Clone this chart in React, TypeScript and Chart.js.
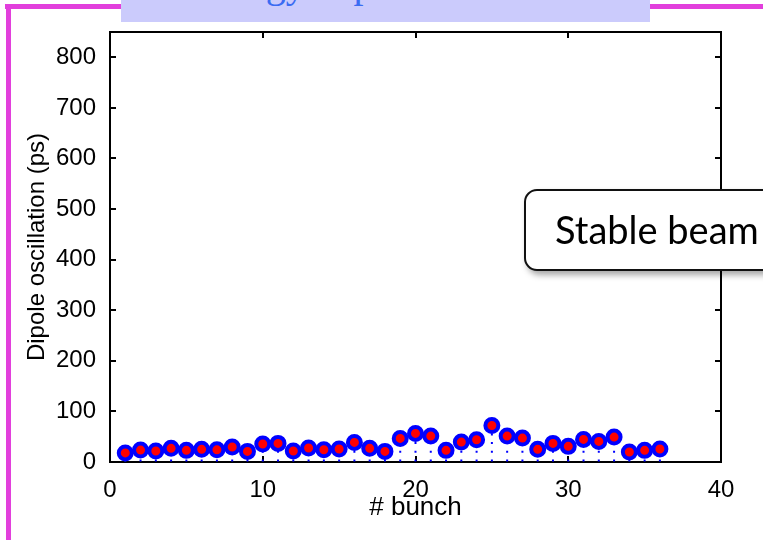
import React, { useEffect, useRef } from "react";
import { Chart, registerables } from "chart.js";

Chart.register(...registerables);

const bunches = [1, 2, 3, 4, 5, 6, 7, 8, 9, 10, 11, 12, 13, 14, 15, 16, 17, 18, 19, 20, 21, 22, 23, 24, 25, 26, 27, 28, 29, 30, 31, 32, 33, 34, 35, 36];
const oscillation = [18, 23.6, 21.7, 27, 23, 25, 24, 29.6, 21, 35.5, 36.8, 21.7, 27.6, 24.3, 25.6, 38.7, 27, 21, 46.6, 56.5, 51.2, 23, 39.4, 44, 72.2, 51.2, 47.3, 25, 36.8, 30.9, 44.7, 40.7, 49.3, 19.7, 23, 25.6];
const xTicks = [0, 10, 20, 30, 40];
const yTicks = [0, 100, 200, 300, 400, 500, 600, 700, 800];
const xLabel = "# bunch";
const yLabel = "Dipole oscillation (ps)";
const noteText = "Stable beam";
const titleText = "Energy dependence";

const FONT = "'Liberation Sans', Arial, Helvetica, sans-serif";

const framePlugin = {
  id: "frame",
  beforeDatasetsDraw(chart: any) {
    const { ctx, chartArea: a, scales } = chart;
    const x = scales.x;
    const y = scales.y;
    ctx.save();
    ctx.strokeStyle = "#000";
    ctx.lineWidth = 2;
    ctx.strokeRect(a.left, a.top, a.right - a.left, a.bottom - a.top);
    const tl = 6;
    ctx.beginPath();
    yTicks.forEach((v) => {
      const py = Math.round(y.getPixelForValue(v));
      ctx.moveTo(a.left, py);
      ctx.lineTo(a.left + tl, py);
      ctx.moveTo(a.right, py);
      ctx.lineTo(a.right - tl, py);
    });
    xTicks.forEach((v) => {
      const px = Math.round(x.getPixelForValue(v));
      ctx.moveTo(px, a.bottom);
      ctx.lineTo(px, a.bottom - tl);
      ctx.moveTo(px, a.top);
      ctx.lineTo(px, a.top + tl);
    });
    ctx.stroke();
    // stems
    const y0 = y.getPixelForValue(0);
    ctx.strokeStyle = "#0000ff";
    ctx.lineWidth = 2;
    ctx.setLineDash([2, 6.7]);
    bunches.forEach((b, i) => {
      const px = x.getPixelForValue(b);
      const py = y.getPixelForValue(oscillation[i]);
      ctx.beginPath();
      ctx.moveTo(px, y0 - 0.5);
      ctx.lineTo(px, py);
      ctx.stroke();
    });
    ctx.restore();
  },
};

export default function App() {
  const ref = useRef<HTMLCanvasElement | null>(null);

  useEffect(() => {
    if (!ref.current) return;
    const chart = new Chart(ref.current, {
      type: "scatter",
      data: {
        datasets: [
          {
            data: bunches.map((b, i) => ({ x: b, y: oscillation[i] })),
            pointRadius: 6.5,
            pointBorderWidth: 4,
            pointBorderColor: "#0000ff",
            pointBackgroundColor: "#ff0000",
            showLine: false,
          },
        ],
      },
      options: {
        animation: false,
        responsive: false,
        devicePixelRatio: 1,
        layout: { padding: { left: 0, top: 32, right: 42, bottom: 0 } },
        plugins: { legend: { display: false }, tooltip: { enabled: false } },
        scales: {
          x: {
            type: "linear",
            min: 0,
            max: 40,
            afterBuildTicks: (s: any) => {
              s.ticks = xTicks.map((v) => ({ value: v }));
            },
            afterFit: (s: any) => {
              s.height = 78;
            },
            grid: { display: false },
            border: { display: false },
            ticks: {
              font: { family: FONT, size: 24 },
              color: "#000",
              padding: 6,
              maxRotation: 0,
              autoSkip: false,
            },
            title: {
              display: true,
              text: xLabel,
              color: "#000",
              font: { family: FONT, size: 26 },
              padding: { top: 0, bottom: 17 },
            },
          },
          y: {
            type: "linear",
            min: 0,
            max: 850,
            afterBuildTicks: (s: any) => {
              s.ticks = yTicks.map((v) => ({ value: v }));
            },
            afterFit: (s: any) => {
              s.width = 110;
            },
            grid: { display: false },
            border: { display: false },
            ticks: {
              font: { family: FONT, size: 24 },
              color: "#000",
              padding: 6,
              autoSkip: false,
            },
            title: {
              display: true,
              text: yLabel,
              color: "#000",
              font: { family: FONT, size: 24 },
              padding: { top: 23, bottom: 0 },
            },
          },
        },
      },
      plugins: [framePlugin],
    });
    return () => chart.destroy();
  }, []);

  return (
    <div
      style={{
        position: "fixed",
        left: 0,
        top: 0,
        width: 763,
        height: 540,
        background: "#fff",
        overflow: "hidden",
      }}
    >
      <canvas
        ref={ref}
        width={763}
        height={540}
        style={{ position: "absolute", left: 0, top: 0, width: 763, height: 540 }}
      />
      <div style={{ position: "absolute", left: 5, top: 4, width: 758, height: 5, background: "#e23fdc" }} />
      <div style={{ position: "absolute", left: 6, top: 4, width: 5, height: 536, background: "#e23fdc" }} />
      <div
        style={{
          position: "absolute",
          left: 121,
          top: 0,
          width: 529,
          height: 22,
          background: "#cbcbfc",
          overflow: "hidden",
        }}
      >
        <div
          style={{
            position: "absolute",
            left: 70,
            top: -36,
            fontFamily: "'Liberation Serif', 'Times New Roman', serif",
            fontSize: 40,
            lineHeight: "40px",
            color: "#3b6cf2",
            whiteSpace: "nowrap",
          }}
        >
          {titleText}
        </div>
      </div>
      <div
        style={{
          position: "absolute",
          left: 524,
          top: 189,
          width: 300,
          height: 82,
          boxSizing: "border-box",
          border: "2px solid #111",
          borderRadius: 13,
          background: "#fff",
          boxShadow: "3px 4px 6px rgba(0,0,0,0.35)",
        }}
      >
        <div
          style={{
            position: "absolute",
            left: 29,
            top: 15,
            fontFamily: "Lato, 'Open Sans', sans-serif",
            fontSize: 38,
            lineHeight: "46px",
            color: "#000",
            whiteSpace: "nowrap",
          }}
        >
          {noteText}
        </div>
      </div>
    </div>
  );
}
